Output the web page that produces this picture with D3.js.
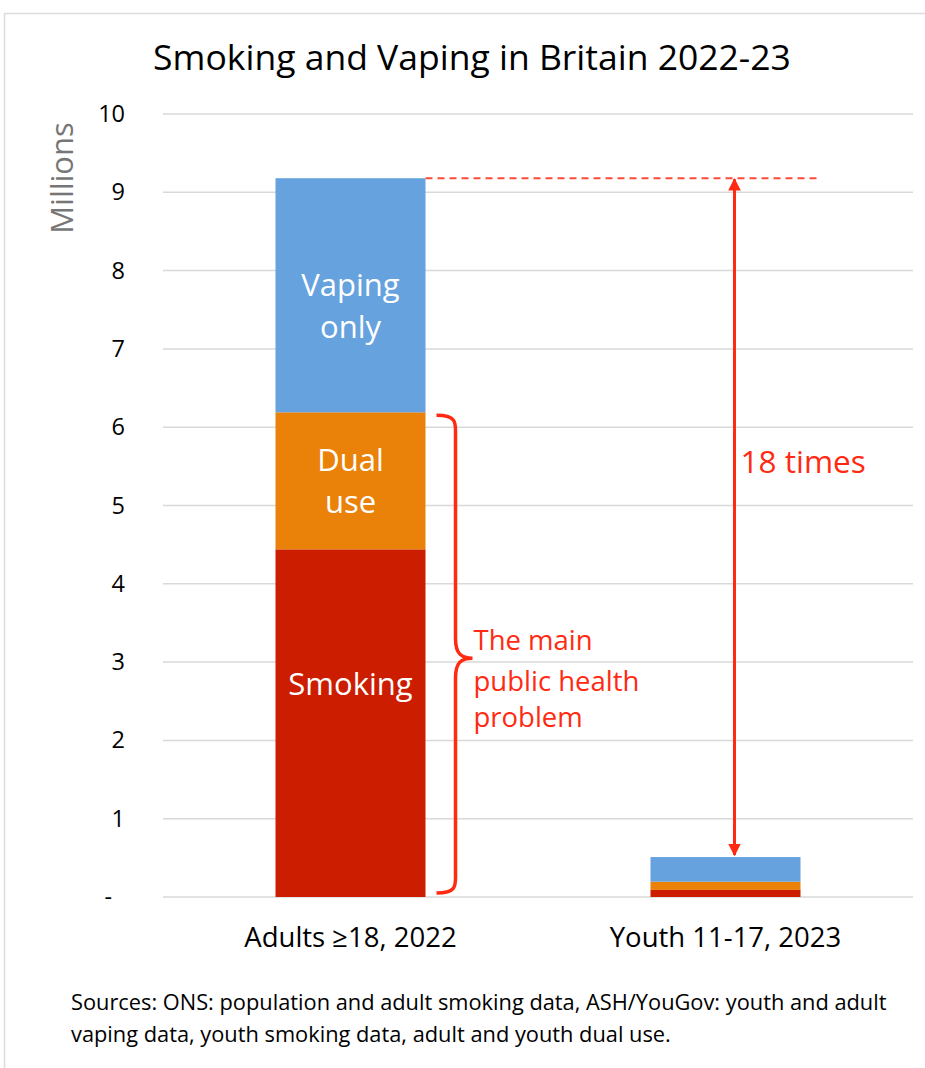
<!DOCTYPE html>
<html>
<head>
<meta charset="utf-8">
<script src="https://cdn.jsdelivr.net/npm/d3@7"></script>
<style>
  body { margin: 0; background: #fff; }
  text { font-family: "Open Sans", Lato, sans-serif; }
</style>
</head>
<body>
<svg id="chart" width="925" height="1068"></svg>
<script>
// DATA
const groups = ["Adults \u226518, 2022", "Youth 11-17, 2023"];
const seriesNames = ["Smoking", "Dual use", "Vaping only"];
const smoking = [4.44, 0.09];
const dualUse = [1.75, 0.105];
const vapingOnly = [2.99, 0.315];
const yTicks = [0, 1, 2, 3, 4, 5, 6, 7, 8, 9, 10];
const colors = ["#cc1d00", "#ea8108", "#66a2dd"];
const red = "#ff2a12";

// CANVAS SETUP
const svg = d3.select("#chart");
const margin = { top: 114, right: 12, bottom: 171, left: 163 },
  width = 925 - margin.left - margin.right,
  height = 1068 - margin.top - margin.bottom;

// frame lines (top + left only)
svg.append("line").attr("x1", 4).attr("x2", 925).attr("y1", 13.5).attr("y2", 13.5)
  .attr("stroke", "#dcdcdc").attr("stroke-width", 1.5);
svg.append("line").attr("x1", 4.5).attr("x2", 4.5).attr("y1", 13).attr("y2", 1068)
  .attr("stroke", "#dcdcdc").attr("stroke-width", 1.5);

svg.append("text")
  .attr("x", 472).attr("y", 70)
  .attr("text-anchor", "middle")
  .attr("font-size", 35.5)
  .attr("fill", "#000")
  .text("Smoking and Vaping in Britain 2022-23");

const g = svg.append("g").attr("transform", `translate(${margin.left},${margin.top})`);

const x = d3.scaleBand().domain(groups).range([0, width]).paddingInner(0.6).paddingOuter(0.3);
const y = d3.scaleLinear().domain([0, 10]).range([height, 0]);

// gridlines
g.selectAll(".grid")
  .data(yTicks)
  .join("line")
  .attr("class", "grid")
  .attr("x1", 0).attr("x2", width)
  .attr("y1", (d) => y(d)).attr("y2", (d) => y(d))
  .attr("stroke", "#d9d9d9").attr("stroke-width", 1.5);

// y axis
const gy = g.append("g")
  .call(d3.axisLeft(y).tickValues(yTicks).tickSize(0).tickPadding(38)
    .tickFormat((d) => (d === 0 ? "-" : d)));
gy.select(".domain").remove();
gy.selectAll("text")
  .attr("font-size", 23.5)
  .attr("fill", "#000")
  .attr("font-family", "'Open Sans', sans-serif")
  .attr("dx", (d) => (d === 0 ? -13 : 0));

svg.append("text")
  .attr("transform", "translate(73,178) rotate(-90)")
  .attr("text-anchor", "middle")
  .attr("font-size", 31)
  .attr("fill", "#767676")
  .text("Millions");

// stacked data
const rows = groups.map((grp, i) => ({
  group: grp,
  "Smoking": smoking[i],
  "Dual use": dualUse[i],
  "Vaping only": vapingOnly[i],
}));
const stacked = d3.stack().keys(seriesNames)(rows);

g.selectAll(".layer")
  .data(stacked)
  .join("g")
  .attr("class", "layer")
  .attr("fill", (d, i) => colors[i])
  .selectAll("rect")
  .data((d) => d)
  .join("rect")
  .attr("x", (d) => x(d.data.group))
  .attr("y", (d) => y(d[1]))
  .attr("width", x.bandwidth())
  .attr("height", (d) => y(d[0]) - y(d[1]));

// in-bar labels for adults (Excel places these a bit off-centre)
const barLabels = [
  { lines: ["Vaping", "only"], layer: 2, dy: 22 },
  { lines: ["Dual", "use"], layer: 1, dy: 11 },
  { lines: ["Smoking"], layer: 0, dy: -28 },
];
const cx = x(groups[0]) + x.bandwidth() / 2;
barLabels.forEach((b) => {
  const seg = stacked[b.layer][0];
  const mid = (y(seg[0]) + y(seg[1])) / 2;
  const lh = 42;
  const t = g.append("text")
    .attr("text-anchor", "middle")
    .attr("font-size", 31)
    .attr("fill", "#fff");
  b.lines.forEach((ln, k) => {
    t.append("tspan")
      .attr("x", cx)
      .attr("y", mid + b.dy + (k - (b.lines.length - 1) / 2) * lh)
      .text(ln);
  });
});

// x labels
g.selectAll(".xlab")
  .data(groups)
  .join("text")
  .attr("class", "xlab")
  .attr("x", (d) => x(d) + x.bandwidth() / 2)
  .attr("y", height + 50)
  .attr("text-anchor", "middle")
  .attr("font-size", 27.5)
  .attr("fill", "#000")
  .text((d) => d);

// brace for smoking + dual use
const adultEnd = x(groups[0]) + x.bandwidth();
const bTop = y(smoking[0] + dualUse[0]) + 3;
const bBot = y(0) - 4;
const bMid = (bTop + bBot) / 2 + 4;
const bx0 = adultEnd + 11, bx1 = bx0 + 19, bx2 = bx1 + 17;
const brace = d3.path();
brace.moveTo(bx0, bTop);
brace.bezierCurveTo(bx1 + 2, bTop, bx1, bTop + 8, bx1, bTop + 20);
brace.lineTo(bx1, bMid - 20);
brace.bezierCurveTo(bx1, bMid - 4, bx1 + 6, bMid, bx2, bMid);
brace.bezierCurveTo(bx1 + 6, bMid, bx1, bMid + 4, bx1, bMid + 20);
brace.lineTo(bx1, bBot - 20);
brace.bezierCurveTo(bx1, bBot - 8, bx1 + 2, bBot, bx0, bBot);
g.append("path")
  .attr("d", brace.toString())
  .attr("fill", "none")
  .attr("stroke", red)
  .attr("stroke-width", 3.5);

const ann = g.append("text").attr("font-size", 27.5).attr("fill", red);
[["The main", 650], ["public health", 691], ["problem", 727]].forEach(([ln, yy]) => {
  ann.append("tspan").attr("x", bx2 + 1).attr("y", yy - margin.top).text(ln);
});

// dashed line and 18x arrow
const adultTotal = smoking[0] + dualUse[0] + vapingOnly[0];
const youthTotal = smoking[1] + dualUse[1] + vapingOnly[1];
const ax = x(groups[1]) + x.bandwidth() / 2 + 9;
g.append("line")
  .attr("x1", adultEnd).attr("x2", x(groups[1]) + x.bandwidth() + 19)
  .attr("y1", y(adultTotal)).attr("y2", y(adultTotal))
  .attr("stroke", "#ff4a3a").attr("stroke-width", 2)
  .attr("stroke-dasharray", "7,5");

const defs = svg.append("defs");
defs.append("marker")
  .attr("id", "ah")
  .attr("viewBox", "0 0 10 10")
  .attr("refX", 9).attr("refY", 5)
  .attr("markerWidth", 4.2).attr("markerHeight", 4.2)
  .attr("orient", "auto-start-reverse")
  .append("path")
  .attr("d", "M0,0 L10,5 L0,10 Z")
  .attr("fill", red);

g.append("line")
  .attr("x1", ax).attr("x2", ax)
  .attr("y1", y(adultTotal) + 1).attr("y2", y(youthTotal) - 2)
  .attr("stroke", red).attr("stroke-width", 3)
  .attr("marker-start", "url(#ah)")
  .attr("marker-end", "url(#ah)");

g.append("text")
  .attr("x", ax + 6).attr("y", 473 - margin.top)
  .attr("font-size", 31.5)
  .attr("fill", red)
  .text(`${Math.round(adultTotal / youthTotal)} times`);

// sources
const src = svg.append("text").attr("font-size", 21.8).attr("fill", "#000");
["Sources: ONS: population and adult smoking data, ASH/YouGov: youth and adult",
 "vaping data, youth smoking data, adult and youth dual use."].forEach((ln, k) => {
  src.append("tspan").attr("x", 71).attr("y", 1010 + k * 32).text(ln);
});
</script>
</body>
</html>
